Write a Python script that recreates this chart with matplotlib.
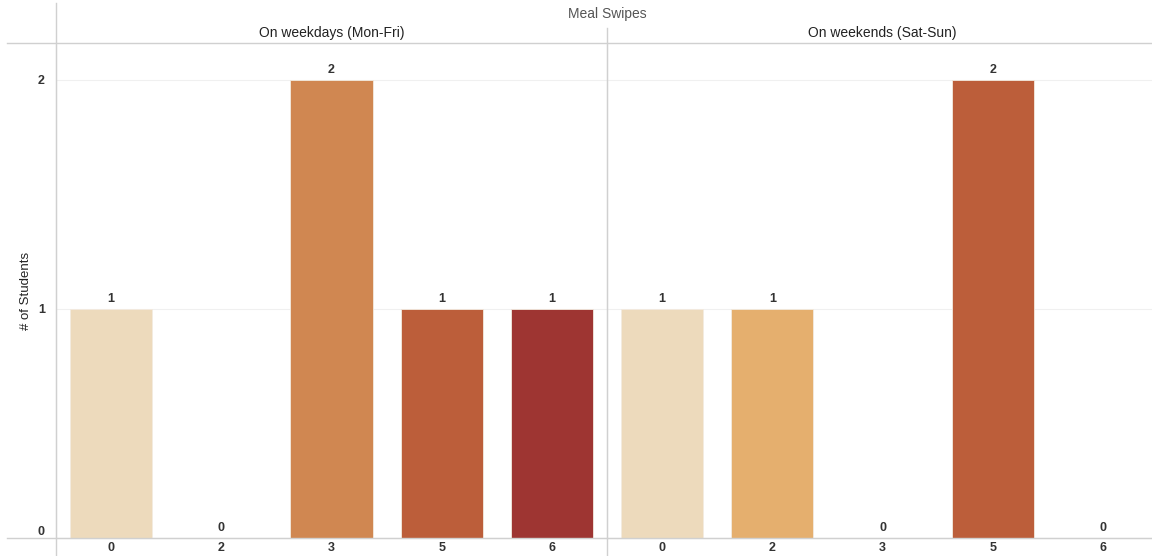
import matplotlib.pyplot as plt
from matplotlib.lines import Line2D

plt.rcParams['font.family'] = ['Liberation Sans', 'DejaVu Sans']

swipes = ['0', '2', '3', '5', '6']
weekdays = [1, 0, 2, 1, 1]
weekends = [1, 1, 0, 2, 0]
panel_titles = ['On weekdays (Mon-Fri)', 'On weekends (Sat-Sun)']
colors = {'0': '#eddabc', '2': '#e5af6e', '3': '#d08751', '5': '#bc5e3a', '6': '#9e3532'}

W, H = 1152, 556
fig = plt.figure(figsize=(W / 100, H / 100), dpi=100)

left, mid, right = 56 / W, 607 / W, 1158 / W
bottom, top = 1 - 538 / H, 1 - 43 / H
ax1 = fig.add_axes([left, bottom, mid - left, top - bottom])
ax2 = fig.add_axes([mid, bottom, right - mid, top - bottom], sharey=ax1)

line_c = '#d0d0d0'
text_c = '#333333'

for ax, vals, title in [(ax1, weekdays, panel_titles[0]), (ax2, weekends, panel_titles[1])]:
    x = range(len(swipes))
    ax.bar(x, vals, width=0.745, color=[colors[s] for s in swipes],
           edgecolor='#f3ebe0', linewidth=0.6, zorder=3)
    for xi, v in zip(x, vals):
        ax.annotate(str(v), (xi, v), xytext=(0, 3), textcoords='offset points',
                    ha='center', va='bottom', fontsize=9, fontweight='bold', color=text_c)
    for g in (1, 2):
        ax.axhline(g, color='#f0f0f0', lw=0.8, zorder=1)
    ax.set_xlim(-0.5, len(swipes) - 0.5)
    ax.set_ylim(0, 2.16)
    ax.set_xticks(list(x))
    ax.set_xticklabels(swipes, fontsize=9, fontweight='bold', color=text_c)
    ax.tick_params(axis='x', length=0, pad=3)
    for s in ('top', 'right'):
        ax.spines[s].set_visible(False)
    ax.spines['left'].set_color(line_c)
    ax.spines['bottom'].set_color(line_c)
    ax.text(0.5, 1.0 + 10 / 495, title, transform=ax.transAxes, ha='center',
            va='center', fontsize=10, color='#222222')

ax1.set_yticks([0, 1, 2])
ax1.set_yticklabels(['0', '1', '2'], fontsize=9, fontweight='bold', color=text_c)
ax1.tick_params(axis='y', length=0, pad=8)
ax1.get_yticklabels()[0].set_va('bottom')
ax1.set_ylabel('# of Students', fontsize=9.5, color='#222222', labelpad=4)
ax2.tick_params(axis='y', left=False, labelleft=False)

# header / frame lines
fig.add_artist(Line2D([7 / W, 1], [top, top], color=line_c, lw=1))
fig.add_artist(Line2D([7 / W, 1], [bottom, bottom], color=line_c, lw=1))
fig.add_artist(Line2D([left, left], [0, 1 - 3 / H], color=line_c, lw=1))
fig.add_artist(Line2D([mid, mid], [0, 1 - 28 / H], color=line_c, lw=1))

fig.text(607 / W, 1 - 14 / H, 'Meal Swipes', ha='center', va='center',
         fontsize=10, color='#555555')

fig.savefig('out.png', dpi=100, facecolor='white')
